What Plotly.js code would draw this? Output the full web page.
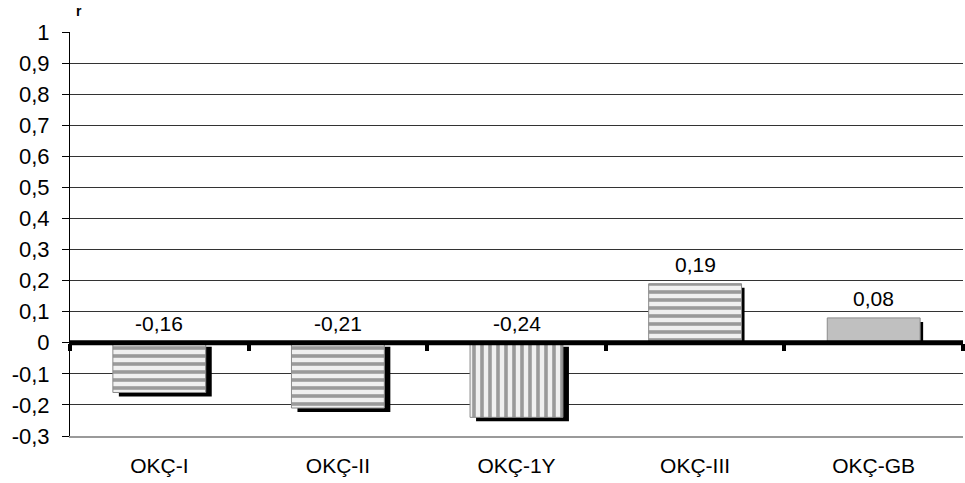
<!DOCTYPE html>
<html>
<head>
<meta charset="utf-8">
<script src="https://cdn.plot.ly/plotly-3.0.1.min.js"></script>
<style>
  html, body { margin: 0; padding: 0; background: #ffffff; }
  #chart { width: 965px; height: 483px; }
</style>
</head>
<body>
<div id="chart"></div>
<script>
// Correlation coefficients (r) per group
const categories = ['OKÇ-I', 'OKÇ-II', 'OKÇ-1Y', 'OKÇ-III', 'OKÇ-GB'];
const values = [-0.16, -0.21, -0.24, 0.19, 0.08];
const valueLabels = ['-0,16', '-0,21', '-0,24', '0,19', '0,08'];
const patternShapes = ['-', '-', '|', '-', ''];
const yTickVals = [-0.3, -0.2, -0.1, 0, 0.1, 0.2, 0.3, 0.4, 0.5, 0.6, 0.7, 0.8, 0.9, 1];
const yTickText = ['-0,3', '-0,2', '-0,1', '0', '0,1', '0,2', '0,3', '0,4', '0,5', '0,6', '0,7', '0,8', '0,9', '1'];

const FONT = 'Arial, Liberation Sans, sans-serif';
const W = 965, H = 483;
const margin = { l: 70, r: 2, t: 32, b: 47 };
const plotW = W - margin.l - margin.r;
const plotH = H - margin.t - margin.b;
const yMin = -0.3, yMax = 1;
const catPx = plotW / categories.length;
const barWidth = 0.52;

// drop shadow: shifted right (more for bars hanging below zero) and down
const dyPx = 4;
const dyVal = dyPx / plotH * (yMax - yMin);

const shadow = {
  type: 'bar',
  x: categories,
  // bar spans base .. base + y
  base: values.map(v => (v >= 0 ? 0 : -dyVal)),
  y: values.map(v => (v >= 0 ? v - dyVal : v)),
  width: barWidth,
  offset: values.map(v => -barWidth / 2 + (v >= 0 ? 3 : 6) / catPx),
  marker: { color: '#000000', line: { width: 0 } },
  hoverinfo: 'skip',
  showlegend: false
};

const bars = {
  type: 'bar',
  x: categories,
  y: values,
  width: barWidth,
  offset: -barWidth / 2,
  marker: {
    color: categories.map((c, i) => (patternShapes[i] ? '#f0f0f0' : '#c0c0c0')),
    line: { color: '#8a8a8a', width: 1 },
    pattern: {
      shape: patternShapes,
      fgcolor: '#bcbcbc',
      size: 8,
      solidity: 0.45,
      fillmode: 'overlay'
    }
  },
  showlegend: false
};

const annotations = categories.map((c, i) => ({
  x: c,
  y: Math.max(values[i], 0),
  xref: 'x',
  yref: 'y',
  text: valueLabels[i],
  showarrow: false,
  yanchor: 'bottom',
  yshift: 6,
  font: { family: FONT, size: 21, color: '#000' }
}));

annotations.push({
  xref: 'paper', yref: 'paper',
  x: 0.004, y: 1,
  xanchor: 'left', yanchor: 'bottom',
  yshift: 11,
  text: '<b>r</b>',
  showarrow: false,
  font: { family: FONT, size: 14, color: '#000' }
});

const zeroFrac = (0 - yMin) / (yMax - yMin);

const layout = {
  width: W,
  height: H,
  margin: margin,
  paper_bgcolor: '#ffffff',
  plot_bgcolor: '#ffffff',
  barmode: 'overlay',
  font: { family: FONT, size: 21, color: '#000' },
  xaxis: {
    type: 'category',
    range: [-0.5, categories.length - 0.5],
    showgrid: false,
    zeroline: false,
    showline: true,
    linecolor: '#9a9a9a',
    linewidth: 2,
    ticks: '',
    ticklabelstandoff: 10,
    tickfont: { family: FONT, size: 21, color: '#000' },
    fixedrange: true
  },
  xaxis2: {
    type: 'category',
    overlaying: 'x',
    matches: 'x',
    anchor: 'free',
    position: zeroFrac,
    side: 'bottom',
    showgrid: false,
    zeroline: false,
    showline: false,
    showticklabels: false,
    ticks: 'outside',
    tickson: 'boundaries',
    ticklen: 7,
    tickwidth: 4,
    tickcolor: '#000'
  },
  yaxis: {
    range: [yMin, yMax],
    tickmode: 'array',
    tickvals: yTickVals,
    ticktext: yTickText,
    showgrid: true,
    gridcolor: '#333333',
    gridwidth: 1,
    zeroline: false,
    showline: true,
    linecolor: '#000',
    linewidth: 1,
    ticks: 'outside',
    ticklen: 7,
    tickcolor: '#000',
    ticklabelstandoff: 8,
    tickfont: { family: FONT, size: 22, color: '#000' },
    fixedrange: true
  },
  shapes: [{
    type: 'line',
    xref: 'paper', yref: 'y',
    x0: 0, x1: 1, y0: 0, y1: 0,
    line: { color: '#000', width: 5 },
    layer: 'above'
  }],
  annotations: annotations
};

// invisible trace on xaxis2 so its category ticks are drawn
const tickHolder = {
  type: 'scatter',
  x: categories,
  y: values,
  xaxis: 'x2',
  mode: 'none',
  hoverinfo: 'skip',
  showlegend: false
};

Plotly.newPlot('chart', [shadow, bars, tickHolder], layout, { displayModeBar: false, staticPlot: true });
</script>
</body>
</html>
